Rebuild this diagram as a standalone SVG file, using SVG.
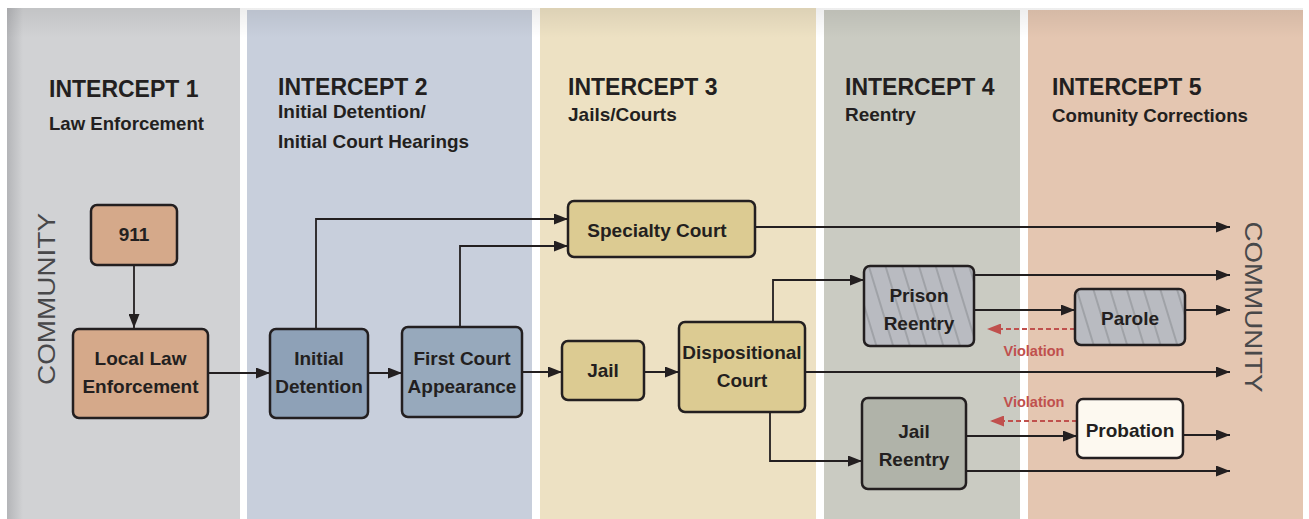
<svg xmlns="http://www.w3.org/2000/svg" width="1309" height="519" viewBox="0 0 1309 519">
<defs>
<style>
.hd{font-family:"Liberation Sans",Arial,sans-serif;font-weight:bold;font-size:23px;fill:#231f20}
.sub{font-family:"Liberation Sans",Arial,sans-serif;font-weight:bold;font-size:19px;fill:#231f20}
.box{stroke:#231f20;stroke-width:2.5}
.lbl{font-family:"Liberation Sans",Arial,sans-serif;font-weight:bold;font-size:19px;fill:#231f20;text-anchor:middle}
.vio{font-family:"Liberation Sans",Arial,sans-serif;font-weight:bold;font-size:14.5px;fill:#c0504d;text-anchor:middle}
.com{font-family:"Liberation Sans",Arial,sans-serif;font-size:24px;fill:#48484a;text-anchor:middle}
.ln{fill:none;stroke:#231f20;stroke-width:1.8}
.dash{fill:none;stroke:#c0504d;stroke-width:1.8;stroke-dasharray:5 3}
</style>
<marker id="ah" markerUnits="userSpaceOnUse" markerWidth="14" markerHeight="11" refX="14" refY="5.5" orient="auto"><path d="M0,0 L14,5.5 L0,11 z" fill="#231f20"/></marker>
<marker id="ahr" markerUnits="userSpaceOnUse" markerWidth="14" markerHeight="11" refX="14" refY="5.5" orient="auto"><path d="M0,0 L14,5.5 L0,11 z" fill="#c0504d"/></marker>
<pattern id="hatch" width="16" height="16" patternUnits="userSpaceOnUse" patternTransform="rotate(-17)"><line x1="1" y1="0" x2="1" y2="16" stroke="#707174" stroke-width="0.7"/></pattern>
<linearGradient id="edge" x1="0" y1="0" x2="1" y2="0"><stop offset="0" stop-color="#b4b5b8"/><stop offset="1" stop-color="#d1d2d4"/></linearGradient>
<linearGradient id="top" x1="0" y1="0" x2="0" y2="1"><stop offset="0" stop-color="#000" stop-opacity="0.07"/><stop offset="1" stop-color="#000" stop-opacity="0"/></linearGradient>
</defs>
<rect width="1309" height="519" fill="#ffffff"/>
<g id="columns">
<rect x="7" y="8" width="233" height="511" fill="#d1d2d4"/>
<rect x="7" y="8" width="16" height="511" fill="url(#edge)"/>
<rect x="247" y="10" width="285" height="509" fill="#c8cfdc"/>
<rect x="540" y="8" width="276" height="511" fill="#ede1c3"/>
<rect x="824" y="10" width="196" height="509" fill="#cacbc2"/>
<rect x="1028" y="10" width="275" height="509" fill="#e4c6b1"/>
<rect x="7" y="8" width="1296" height="30" fill="url(#top)"/>
</g>
<g id="headings">
<text class="hd" x="49" y="97">INTERCEPT 1</text>
<text class="sub" x="49" y="130" textLength="155" lengthAdjust="spacingAndGlyphs">Law Enforcement</text>
<text class="hd" x="278" y="95">INTERCEPT 2</text>
<text class="sub" x="278" y="118">Initial Detention/</text>
<text class="sub" x="278" y="148" textLength="191" lengthAdjust="spacingAndGlyphs">Initial Court Hearings</text>
<text class="hd" x="568" y="95">INTERCEPT 3</text>
<text class="sub" x="568" y="121">Jails/Courts</text>
<text class="hd" x="845" y="95">INTERCEPT 4</text>
<text class="sub" x="845" y="121">Reentry</text>
<text class="hd" x="1052" y="95">INTERCEPT 5</text>
<text class="sub" x="1052" y="122" textLength="196" lengthAdjust="spacingAndGlyphs">Comunity Corrections</text>
<text class="com" transform="translate(55,299) rotate(-90)" textLength="172" lengthAdjust="spacingAndGlyphs">COMMUNITY</text>
<text class="com" transform="translate(1245,307) rotate(90)" textLength="171" lengthAdjust="spacingAndGlyphs">COMMUNITY</text>
</g>
<g id="connectors">
<path class="ln" d="M134,265 V328" marker-end="url(#ah)"/>
<path class="ln" d="M208,373 H270" marker-end="url(#ah)"/>
<path class="ln" d="M368,373 H402" marker-end="url(#ah)"/>
<path class="ln" d="M522,372 H562" marker-end="url(#ah)"/>
<path class="ln" d="M644,372 H679" marker-end="url(#ah)"/>
<path class="ln" d="M316,328 V219 H568" marker-end="url(#ah)"/>
<path class="ln" d="M460,327 V246 H568" marker-end="url(#ah)"/>
<path class="ln" d="M756,227 H1230" marker-end="url(#ah)"/>
<path class="ln" d="M773,322 V280 H864" marker-end="url(#ah)"/>
<path class="ln" d="M975,275 H1230" marker-end="url(#ah)"/>
<path class="ln" d="M975,310 H1075" marker-end="url(#ah)"/>
<path class="ln" d="M1186,310 H1230" marker-end="url(#ah)"/>
<path class="dash" d="M1075,329 H987" marker-end="url(#ahr)"/>
<path class="ln" d="M805,372 H1230" marker-end="url(#ah)"/>
<path class="ln" d="M770,413 V461 H862" marker-end="url(#ah)"/>
<path class="ln" d="M967,436 H1077" marker-end="url(#ah)"/>
<path class="ln" d="M1184,435 H1230" marker-end="url(#ah)"/>
<path class="dash" d="M1077,421 H990" marker-end="url(#ahr)"/>
<path class="ln" d="M967,471 H1230" marker-end="url(#ah)"/>
<text class="vio" x="1034" y="356">Violation</text>
<text class="vio" x="1034" y="407">Violation</text>
</g>
<g id="n911"><rect class="box" x="91" y="205" width="86" height="60" rx="6" fill="#d5a98a"/><text class="lbl" x="134" y="241">911</text></g>
<g id="nLocalLaw"><rect class="box" x="73" y="329" width="135" height="89" rx="6" fill="#d5a98a"/><text class="lbl" x="140.5" y="365">Local Law</text><text class="lbl" x="140.5" y="393">Enforcement</text></g>
<g id="nInitialDetention"><rect class="box" x="270" y="329" width="98" height="89" rx="6" fill="#8ea1b7"/><text class="lbl" x="319" y="365">Initial</text><text class="lbl" x="319" y="393">Detention</text></g>
<g id="nFirstCourt"><rect class="box" x="402" y="327" width="120" height="90" rx="6" fill="#97a9bc"/><text class="lbl" x="462" y="365">First Court</text><text class="lbl" x="462" y="393">Appearance</text></g>
<g id="nSpecialty"><rect class="box" x="568" y="201" width="187" height="56" rx="6" fill="#dccb92"/><text class="lbl" x="657" y="237">Specialty Court</text></g>
<g id="nJail"><rect class="box" x="562" y="341" width="82" height="59" rx="6" fill="#dccb92"/><text class="lbl" x="603" y="377">Jail</text></g>
<g id="nDispositional"><rect class="box" x="679" y="322" width="126" height="90" rx="6" fill="#dccb92"/><text class="lbl" x="742" y="359">Dispositional</text><text class="lbl" x="742" y="387">Court</text></g>
<g id="nPrisonReentry"><rect x="864" y="266" width="110" height="80" rx="6" fill="#b9bbc1"/><rect class="box" x="864" y="266" width="110" height="80" rx="6" fill="url(#hatch)"/><text class="lbl" x="919" y="302">Prison</text><text class="lbl" x="919" y="330">Reentry</text></g>
<g id="nParole"><rect x="1075" y="289" width="110" height="56" rx="6" fill="#b9bbc1"/><rect class="box" x="1075" y="289" width="110" height="56" rx="6" fill="url(#hatch)"/><text class="lbl" x="1130" y="325">Parole</text></g>
<g id="nJailReentry"><rect class="box" x="862" y="398" width="104" height="91" rx="6" fill="#b0b3a9"/><text class="lbl" x="914" y="438">Jail</text><text class="lbl" x="914" y="466">Reentry</text></g>
<g id="nProbation"><rect class="box" x="1077" y="399" width="106" height="59" rx="6" fill="#fdf9f0"/><text class="lbl" x="1130" y="437">Probation</text></g>
</svg>
